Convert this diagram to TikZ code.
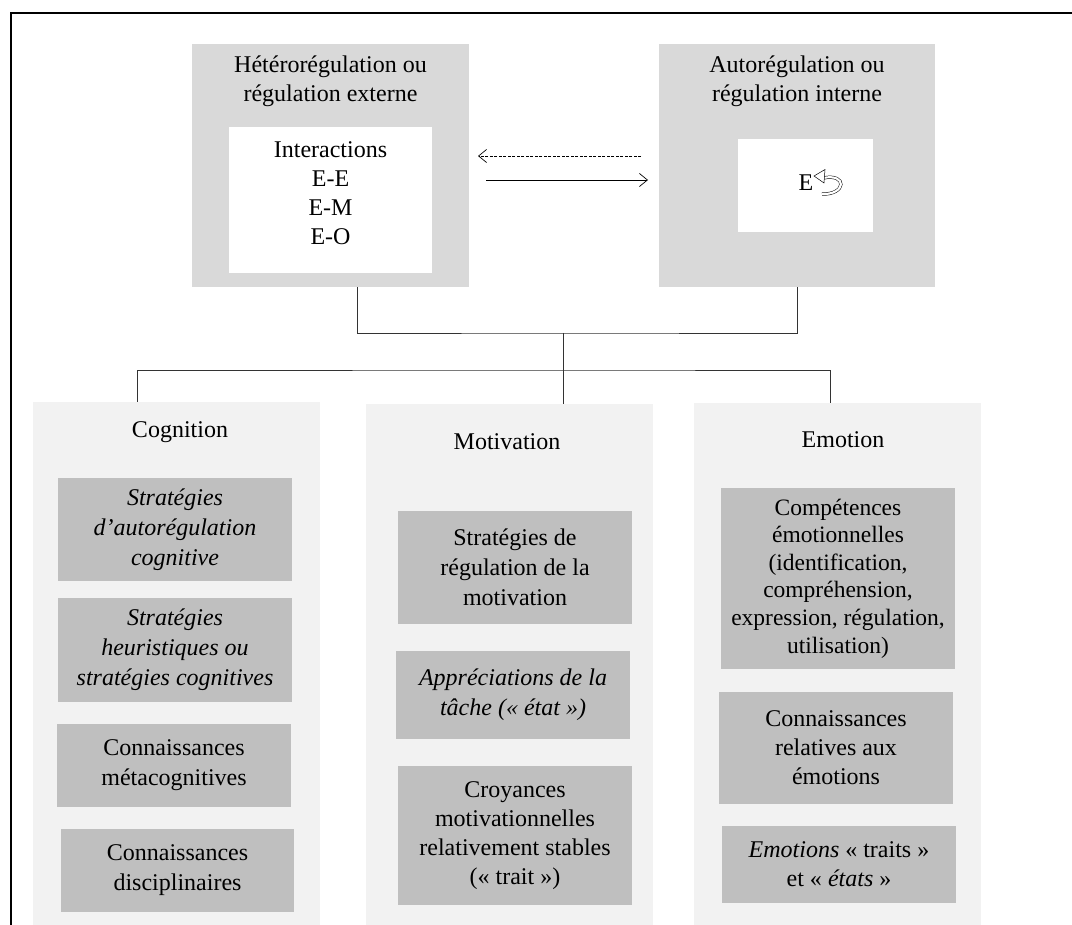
\documentclass[tikz,border=0pt]{standalone}
\usepackage{fontspec}
\setmainfont{Liberation Serif}
\usetikzlibrary{arrows.meta}
\definecolor{topgray}{HTML}{D9D9D9}
\definecolor{colgray}{HTML}{F2F2F2}
\definecolor{boxgray}{HTML}{BFBFBF}
\definecolor{linegray}{HTML}{333333}
\tikzset{
  txt/.style={font=\fontsize{24}{29}\selectfont, align=center, inner sep=0pt, text=black},
  topbox/.style={fill=topgray, draw=none, inner sep=0pt},
  whitebox/.style={fill=white, draw=none, inner sep=0pt},
  colbox/.style={fill=colgray, draw=none, inner sep=0pt, minimum width=287pt},
  itembox/.style={fill=boxgray, draw=none, inner sep=0pt, minimum width=234pt, font=\fontsize{24}{30}\selectfont, align=center, text=black},
  conn/.style={draw=linegray, line width=0.9pt},
  barb/.style={-{Straight Barb[length=8pt,width=13pt]}, line width=0.7pt, draw=black}
}
\begin{document}
\begin{tikzpicture}[x=1pt,y=-1pt]
\useasboundingbox (0,0) rectangle (1072,925);
% frame
\draw[line width=1.8pt] (11,925) -- (11,13) -- (1072,13);

% top boxes
\node[topbox, minimum width=277pt, minimum height=243pt] (hetero) at (330.5,165.5) {};
\node[whitebox, minimum width=203pt, minimum height=146pt] (heteroin) at (330.5,200) {};
\node[txt] (heterot) at (330.5,81) {Hétérorégulation ou\\régulation externe};
\node[txt] (inter) at (330.5,193) {Interactions\\E-E\\E-M\\E-O};

\node[topbox, minimum width=276pt, minimum height=243pt] (auto) at (797,165.5) {};
\node[whitebox, minimum width=135pt, minimum height=93pt] (autoin) at (805.5,185.5) {};
\node[txt] (autot) at (797,81) {Autorégulation ou\\régulation interne};
\node[txt] (eself) at (806,183) {E};
% U-turn symbol
\draw[line width=0.5pt, double=white, double distance=2.2pt] (823,178) .. controls (848,173) and (846,195) .. (822,194);
\draw[line width=0.5pt, fill=white] (814,176) -- (825,169.5) -- (824,183) -- cycle;

% arrows between top boxes
\coordinate (d1) at (641,156);
\coordinate (d2) at (478,156);
\coordinate (s1) at (486,180);
\coordinate (s2) at (648,180);
\draw[barb, dash pattern=on 3pt off 1.5pt] (d1) -- (d2);
\draw[barb] (s1) -- (s2);

% columns
\node[colbox, minimum height=523pt] (cog) at (176.5,663.5) {};
\node[colbox, minimum height=521pt] (mot) at (509.5,664.5) {};
\node[colbox, minimum height=522pt] (emo) at (837.5,664) {};

\node[txt] (cogt) at (180,432) {Cognition};
\node[txt] (mott) at (507,442) {Motivation};
\node[txt] (emot) at (843,440) {Emotion};

% cognition items
\node[itembox, minimum height=103pt] (c1) at (175,529.5) {\textit{Stratégies}\\\textit{d’autorégulation}\\\textit{cognitive}};
\node[itembox, minimum height=104pt] (c2) at (175,650) {\textit{Stratégies}\\\textit{heuristiques ou}\\\textit{stratégies cognitives}};
\node[itembox, minimum height=83pt] (c3) at (174,765.5) {Connaissances\\métacognitives};
\node[itembox, minimum height=83pt, minimum width=233pt] (c4) at (177.5,870.5) {Connaissances\\disciplinaires};

% motivation items
\node[itembox, minimum height=113pt] (m1) at (515,567.5) {Stratégies de\\régulation de la\\motivation};
\node[itembox, minimum height=88pt] (m2) at (513,695) {\textit{Appréciations de la}\\\textit{tâche (« état »)}};
\node[itembox, minimum height=139pt, font=\fontsize{24}{29}\selectfont] (m3) at (515,835.5) {Croyances\\motivationnelles\\relativement stables\\(« trait »)};

% emotion items
\node[itembox, minimum height=181pt, font=\fontsize{23.5}{27.6}\selectfont] (e1) at (838,578.5) {Compétences\\émotionnelles\\(identification,\\compréhension,\\expression, régulation,\\utilisation)};
\node[itembox, minimum height=112pt, font=\fontsize{24}{29}\selectfont] (e2) at (836,748) {Connaissances\\relatives aux\\émotions};
\node[itembox, minimum height=77pt, font=\fontsize{24}{29}\selectfont] (e3) at (839,864.5) {\textit{Emotions} « traits »\\et « \textit{états} »};

% connectors
\coordinate (jt) at (563,333);
\coordinate (jb) at (563,370);
\draw[conn] ([xshift=26.5pt]hetero.south) |- (jt) -| (auto.south);
\draw[conn] (jt) -- ([xshift=53.5pt]mot.north);
\draw[conn] ([xshift=-39.5pt]cog.north) |- (jb) -| ([xshift=-7.5pt]emo.north);
\end{tikzpicture}
\end{document}
